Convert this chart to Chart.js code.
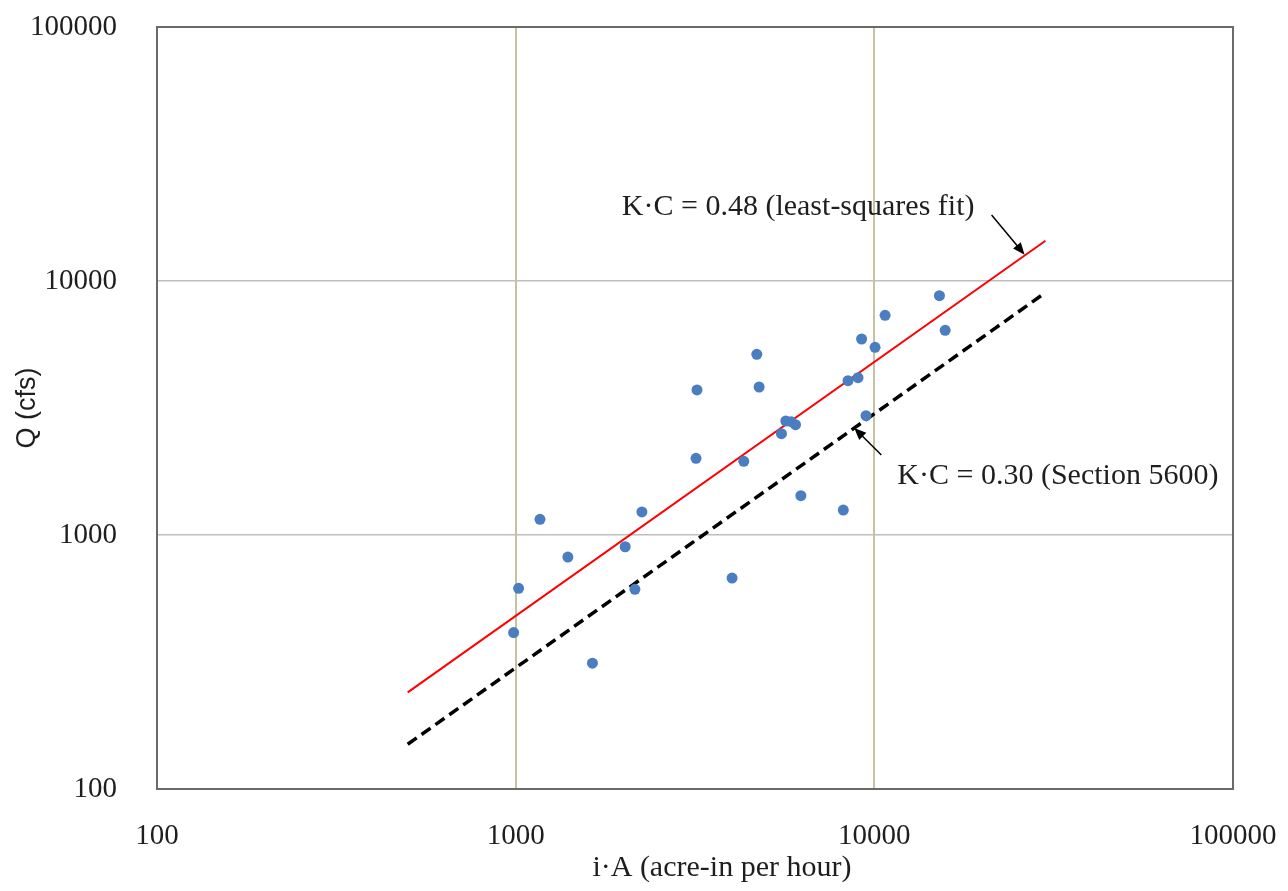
<!DOCTYPE html>
<html>
<head>
<meta charset="utf-8">
<script src="https://cdn.jsdelivr.net/npm/chart.js@4.4.1/dist/chart.umd.min.js"></script>
<style>
  html, body { margin: 0; padding: 0; background: #fff; }
  #wrap { width: 1288px; height: 891px; }
</style>
</head>
<body>
<div id="wrap"><canvas id="chart" width="1288" height="891"></canvas></div>
<script>
// observed basins: i*A (acre-in per hour) vs peak Q (cfs)
const sampleIA = [987, 1019, 1169, 1398, 1637, 2020, 2150, 2249, 3183, 3203, 4012, 4325, 4702, 4773,
                  5509, 5666, 5864, 6029, 6240, 8194, 8445, 9006, 9215, 9480, 10046, 10715, 15190, 15760];
const sampleQ  = [413, 617, 1153, 819, 313, 899, 611, 1232, 2004, 3724, 677, 1951, 5144, 3825,
                  2505, 2811, 2793, 2719, 1428, 1254, 4051, 4162, 5911, 2949, 5483, 7328, 8750, 6392];

// the two K*C lines, end points only
const lineIA = [500, 30000];
const fitQ = [240, 14400];      // K*C = 0.48
const sectionQ = [150, 9000];   // K*C = 0.30

const xTicks = [100, 1000, 10000, 100000];
const yTicks = [100, 1000, 10000, 100000];

const fitLabel = 'K\u00b7C = 0.48 (least-squares fit)';
const sectionLabel = 'K\u00b7C = 0.30 (Section 5600)';
const xTitle = 'i\u00b7A (acre-in per hour)';
const yTitle = 'Q (cfs)';

const serif = '"Liberation Serif", "Times New Roman", serif';
const textColor = '#1e1e1e';

const toPts = (xs, ys) => xs.map((x, i) => ({ x: x, y: ys[i] }));

function arrow(ctx, x1, y1, x2, y2) {
  const ang = Math.atan2(y2 - y1, x2 - x1);
  const len = 12, w = 5;
  ctx.save();
  ctx.strokeStyle = '#000';
  ctx.fillStyle = '#000';
  ctx.lineWidth = 1.5;
  ctx.beginPath();
  ctx.moveTo(x1, y1);
  ctx.lineTo(x2 - Math.cos(ang) * len * 0.8, y2 - Math.sin(ang) * len * 0.8);
  ctx.stroke();
  ctx.beginPath();
  ctx.moveTo(x2, y2);
  ctx.lineTo(x2 - Math.cos(ang) * len + Math.sin(ang) * w, y2 - Math.sin(ang) * len - Math.cos(ang) * w);
  ctx.lineTo(x2 - Math.cos(ang) * len - Math.sin(ang) * w, y2 - Math.sin(ang) * len + Math.cos(ang) * w);
  ctx.closePath();
  ctx.fill();
  ctx.restore();
}

const frame = {
  id: 'frame',
  beforeDatasetsDraw(chart) {
    const a = chart.chartArea, ctx = chart.ctx;
    ctx.save();
    ctx.strokeStyle = '#6a6a6a';
    ctx.lineWidth = 2;
    ctx.strokeRect(a.left, a.top, a.right - a.left, a.bottom - a.top);
    ctx.restore();
  },
  afterDatasetsDraw(chart) {
    const ctx = chart.ctx, xs = chart.scales.x, ys = chart.scales.y;
    const px = v => xs.getPixelForValue(v), py = v => ys.getPixelForValue(v);
    ctx.save();
    ctx.fillStyle = textColor;
    ctx.font = '30px ' + serif;
    ctx.textAlign = 'left';
    ctx.textBaseline = 'middle';
    ctx.fillText(fitLabel, px(1977), py(19540));
    ctx.fillText(sectionLabel, px(11590), py(1706));
    arrow(ctx, px(21230), py(18200), px(26240), py(12700));
    arrow(ctx, px(10460), py(2066), px(8790), py(2640));

    // axis titles
    const a = chart.chartArea;
    ctx.textAlign = 'center';
    ctx.fillText(xTitle, a.left + (a.right - a.left) * 0.525, 868);
    ctx.font = '27px "Liberation Sans", Arial, sans-serif';
    ctx.translate(28, (a.top + a.bottom) / 2);
    ctx.rotate(-Math.PI / 2);
    ctx.fillText(yTitle, 0, 0);
    ctx.restore();
  }
};

new Chart(document.getElementById('chart'), {
  type: 'scatter',
  data: {
    datasets: [
      {
        label: 'observed',
        data: toPts(sampleIA, sampleQ),
        backgroundColor: 'rgb(74,126,192)',
        borderColor: 'rgb(74,126,192)',
        pointRadius: 5.5,
        pointBorderWidth: 0
      },
      {
        label: 'fit',
        data: toPts(lineIA, fitQ),
        showLine: true,
        borderColor: '#ff0000',
        borderWidth: 2,
        pointRadius: 0
      },
      {
        label: 'section',
        data: toPts(lineIA, sectionQ),
        showLine: true,
        borderColor: '#000',
        borderWidth: 3.5,
        borderDash: [11, 6],
        pointRadius: 0
      }
    ]
  },
  options: {
    responsive: false,
    animation: false,
    layout: { padding: { left: 0, right: 55, top: 27, bottom: 0 } },
    plugins: { legend: { display: false }, tooltip: { enabled: false } },
    scales: {
      x: {
        type: 'logarithmic',
        min: 100,
        max: 100000,
        afterBuildTicks: s => { s.ticks = xTicks.map(v => ({ value: v })); },
        afterFit: s => { s.height = 102; s.paddingLeft = 0; s.paddingRight = 0; },
        border: { display: false },
        grid: {
          drawTicks: false,
          lineWidth: 2,
          color: c => (c.tick && (c.tick.value === 1000 || c.tick.value === 10000)) ? 'rgb(200,193,160)' : 'rgba(0,0,0,0)'
        },
        ticks: {
          padding: 30,
          color: textColor,
          font: { family: serif, size: 29 },
          maxRotation: 0,
          autoSkip: false,
          callback: v => String(v)
        }
      },
      y: {
        type: 'logarithmic',
        min: 100,
        max: 100000,
        afterBuildTicks: s => { s.ticks = yTicks.map(v => ({ value: v })); },
        afterFit: s => { s.width = 157; s.paddingTop = 0; s.paddingBottom = 0; },
        border: { display: false },
        grid: {
          drawTicks: false,
          lineWidth: 1.5,
          color: c => (c.tick && (c.tick.value === 1000 || c.tick.value === 10000)) ? 'rgb(190,190,190)' : 'rgba(0,0,0,0)'
        },
        ticks: {
          padding: 40,
          color: textColor,
          font: { family: serif, size: 29 },
          autoSkip: false,
          callback: v => String(v)
        }
      }
    }
  },
  plugins: [frame]
});
</script>
</body>
</html>
